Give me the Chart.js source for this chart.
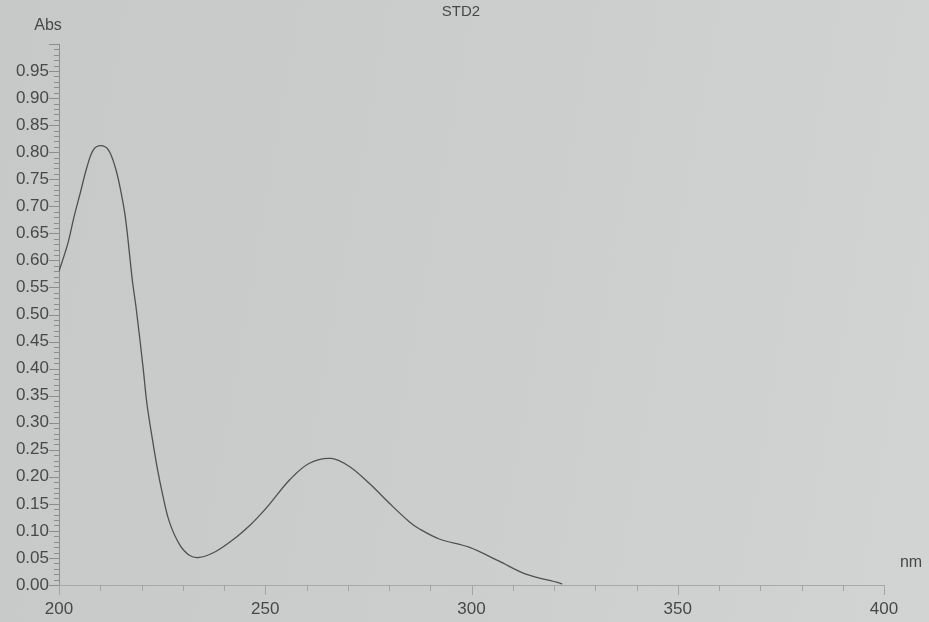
<!DOCTYPE html>
<html>
<head>
<meta charset="utf-8">
<script src="https://cdn.jsdelivr.net/npm/chart.js@4/dist/chart.umd.min.js"></script>
<style>
    html, body { margin: 0; padding: 0; }
    body {
        width: 929px;
        height: 622px;
        overflow: hidden;
        background: linear-gradient(100deg, #c7c9c8 0%, #cbcdcc 45%, #d2d4d3 100%);
    }
    #main { display: block; }
</style>
</head>
<body>
<canvas id="main" width="929" height="622"></canvas>
<script>
const longueursOnde = [200, 202.1, 203.6, 205.2, 206.8, 208.3, 210.1, 212.0, 213.6, 214.8, 216.1, 217.8,
    218.7, 220.4, 221.3, 222.5, 223.8, 225.1, 226.7, 229.2, 231.6, 234.0, 238.0, 242.4, 246.5, 248.8,
    251.2, 256.0, 260.7, 266.0, 270.4, 275.2, 280.1, 284.9, 287.3, 292.2, 299.4, 306.7, 313.2, 321.2, 322];
const absorbances = [0.58, 0.63, 0.679, 0.726, 0.773, 0.804, 0.812, 0.804, 0.773, 0.735, 0.679, 0.562,
    0.512, 0.401, 0.336, 0.276, 0.217, 0.168, 0.118, 0.075, 0.055, 0.051, 0.062, 0.085, 0.112, 0.13,
    0.151, 0.195, 0.225, 0.234, 0.219, 0.188, 0.151, 0.117, 0.104, 0.085, 0.07, 0.044, 0.02, 0.004, 0.002];

const titre = 'STD2';
const labelY = 'Abs';
const labelX = 'nm';

const couleurTexte = '#474948';
const couleurAxe = '#8c8e8d';
const police = '"Liberation Sans", Arial, sans-serif';

const estMajeur = (v, pas) => Math.abs(v / pas - Math.round(v / pas)) < 1e-6;

// petites graduations + textes (titre, unités)
const decorPlugin = {
    id: 'decor',
    afterDraw(chart) {
        const ctx = chart.ctx;
        const area = chart.chartArea;
        const sx = chart.scales.x;
        const sy = chart.scales.y;
        ctx.save();
        ctx.strokeStyle = couleurAxe;
        ctx.lineWidth = 1;
        sy.ticks.forEach(t => {
            const y = Math.round(sy.getPixelForValue(t.value)) + 0.5;
            const len = estMajeur(t.value, 0.05) ? 10 : 5;
            ctx.beginPath();
            ctx.moveTo(area.left - len, y);
            ctx.lineTo(area.left, y);
            ctx.stroke();
        });
        ctx.strokeStyle = '#a3a5a4';
        sx.ticks.forEach(t => {
            const x = Math.round(sx.getPixelForValue(t.value)) + 0.5;
            const len = estMajeur(t.value, 50) ? 10 : 6;
            ctx.beginPath();
            ctx.moveTo(x, area.bottom);
            ctx.lineTo(x, area.bottom + len);
            ctx.stroke();
        });
        ctx.fillStyle = couleurTexte;
        ctx.textAlign = 'center';
        ctx.textBaseline = 'middle';
        ctx.font = '15px ' + police;
        ctx.fillText(titre, 461, 12);
        ctx.font = '16px ' + police;
        ctx.fillText(labelY, 48, 26);
        ctx.fillText(labelX, 911, 563);
        ctx.restore();
    }
};

new Chart(document.getElementById('main').getContext('2d'), {
    type: 'line',
    data: {
        datasets: [{
            data: longueursOnde.map((x, i) => ({ x: x, y: absorbances[i] })),
            borderColor: '#4f5150',
            borderWidth: 1.3,
            pointRadius: 0,
            fill: false,
            tension: 0.35
        }]
    },
    options: {
        responsive: false,
        animation: false,
        layout: { padding: { top: 44, right: 45, left: 0, bottom: 0 } },
        plugins: { legend: { display: false }, tooltip: { enabled: false } },
        scales: {
            x: {
                type: 'linear',
                min: 200,
                max: 400,
                afterFit: s => { s.height = 37; },
                border: { display: true, color: '#a8aaa9', width: 1 },
                grid: { drawOnChartArea: false, drawTicks: true, tickLength: 10, tickColor: 'rgba(0,0,0,0)' },
                ticks: {
                    stepSize: 10,
                    autoSkip: false,
                    maxRotation: 0,
                    padding: 4,
                    color: couleurTexte,
                    font: { family: police, size: 17 },
                    callback: v => estMajeur(v, 50) ? String(Math.round(v)) : ''
                }
            },
            y: {
                min: 0,
                max: 1,
                afterFit: s => { s.width = 59; },
                border: { display: true, color: couleurAxe, width: 1 },
                grid: { drawOnChartArea: false, drawTicks: true, tickLength: 10, tickColor: 'rgba(0,0,0,0)' },
                ticks: {
                    stepSize: 0.01,
                    autoSkip: false,
                    padding: 0,
                    color: couleurTexte,
                    font: { family: police, size: 17 },
                    callback: v => (estMajeur(v, 0.05) && v < 0.999) ? v.toFixed(2) : ''
                }
            }
        }
    },
    plugins: [decorPlugin]
});
</script>
</body>
</html>
